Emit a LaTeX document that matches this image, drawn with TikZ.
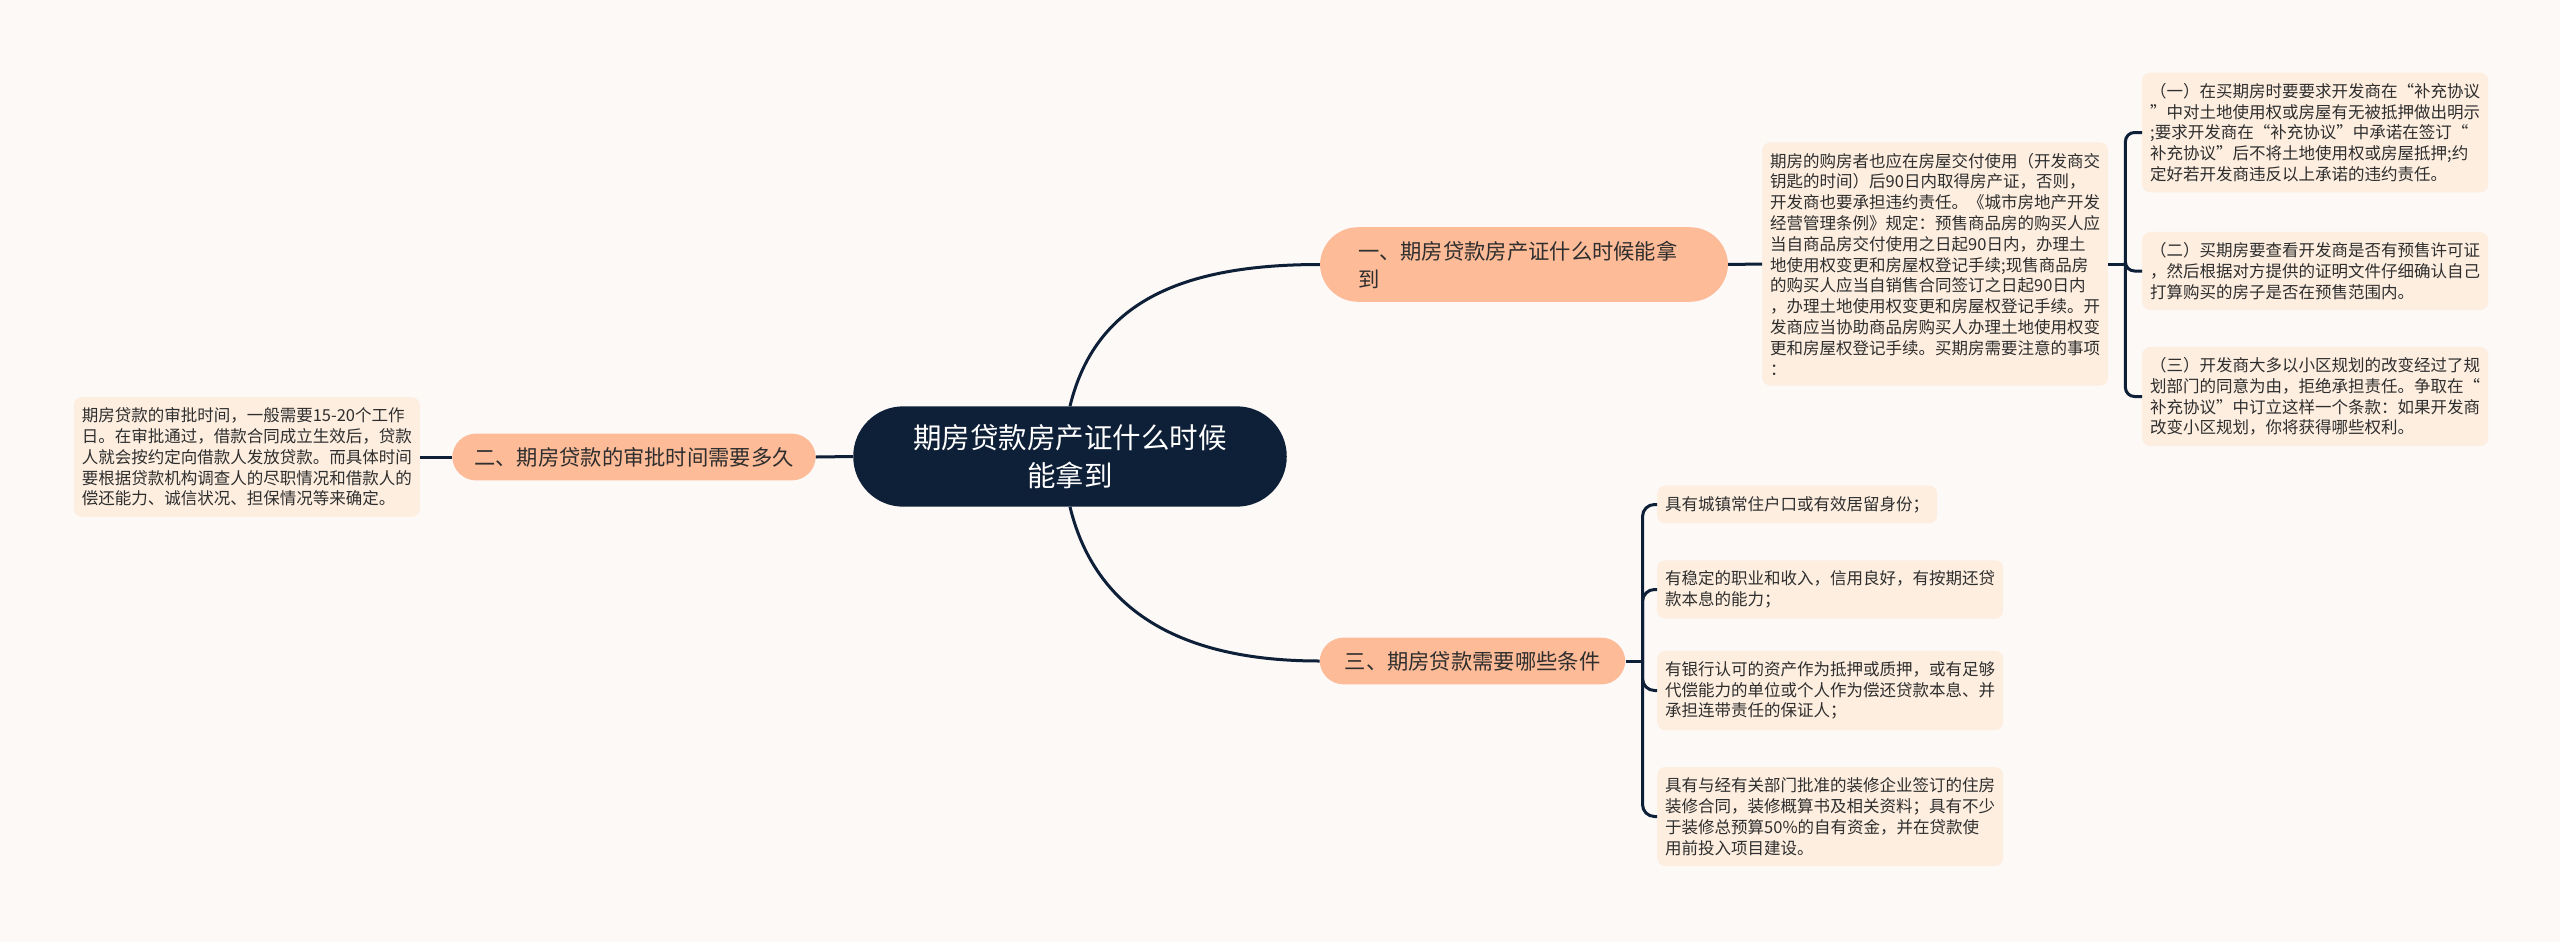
\documentclass[tikz,border=0pt]{standalone}
\usepackage{fontspec}
\setmainfont{Noto Sans CJK SC}
\usetikzlibrary{calc}

\definecolor{fundo}{HTML}{FCF9F7}
\definecolor{corFolha}{HTML}{FDEEE0}
\definecolor{corRamo}{HTML}{FDBB98}
\definecolor{corCentro}{HTML}{0E1F38}
\definecolor{corTexto}{HTML}{2E2E2E}

\tikzset{
  centro/.style={fill=corCentro, text=white, rounded corners=50pt, align=center,
    inner xsep=60pt, inner ysep=18pt, font=\fontsize{28.5}{38}\selectfont},
  ramo/.style={fill=corRamo, text=corTexto, align=left, inner ysep=13.5pt,
    font=\fontsize{21.3}{28}\selectfont},
  folha/.style={fill=corFolha, text=corTexto, rounded corners=8pt, align=left,
    inner xsep=8pt, inner ysep=10.5pt, anchor=west, font=\fontsize{16.5}{20.8}\selectfont},
  liga/.style={draw=corCentro, line width=3pt},
}

\begin{document}
\begin{tikzpicture}[x=1pt,y=1pt]
			\fill[fundo] (0,0) rectangle (2560,-942);
			
			%no central
			\node[centro] (C) at (1070,-456.5) {期房贷款房产证什么时候\\能拿到};
			
			%ramos
			\node[ramo, text width=332pt, inner xsep=38pt, rounded corners=38pt] (R1) at (1524,-264.5) {一、期房贷款房产证什么时候能拿\\到};
			\node[ramo, inner xsep=22pt, rounded corners=24pt] (R2) at (634,-457) {二、期房贷款的审批时间需要多久};
			\node[ramo, inner xsep=25pt, rounded corners=24pt] (R3) at (1472.5,-661) {三、期房贷款需要哪些条件};
			
			%folhas do ramo um
			\node[folha] (F1) at (1762,-264) {期房的购房者也应在房屋交付使用（开发商交\\钥匙的时间）后90日内取得房产证，否则，\\开发商也要承担违约责任。《城市房地产开发\\经营管理条例》规定：预售商品房的购买人应\\当自商品房交付使用之日起90日内，办理土\\地使用权变更和房屋权登记手续;现售商品房\\的购买人应当自销售合同签订之日起90日内\\，办理土地使用权变更和房屋权登记手续。开\\发商应当协助商品房购买人办理土地使用权变\\更和房屋权登记手续。买期房需要注意的事项\\：};
			\node[folha] (A1) at (2142,-132.5) {（一）在买期房时要要求开发商在“补充协议\\”中对土地使用权或房屋有无被抵押做出明示\\;要求开发商在“补充协议”中承诺在签订“\\补充协议”后不将土地使用权或房屋抵押;约\\定好若开发商违反以上承诺的违约责任。};
			\node[folha] (A2) at (2142,-271) {（二）买期房要查看开发商是否有预售许可证\\，然后根据对方提供的证明文件仔细确认自己\\打算购买的房子是否在预售范围内。};
			\node[folha] (A3) at (2142,-396.5) {（三）开发商大多以小区规划的改变经过了规\\划部门的同意为由，拒绝承担责任。争取在“\\补充协议”中订立这样一个条款：如果开发商\\改变小区规划，你将获得哪些权利。};
			
			%folha do ramo dois
			\node[folha, anchor=east] (E1) at (420,-457) {期房贷款的审批时间，一般需要15-20个工作\\日。在审批通过，借款合同成立生效后，贷款\\人就会按约定向借款人发放贷款。而具体时间\\要根据贷款机构调查人的尽职情况和借款人的\\偿还能力、诚信状况、担保情况等来确定。};
			
			%folhas do ramo tres
			\node[folha] (T1) at (1657,-504.5) {具有城镇常住户口或有效居留身份；};
			\node[folha] (T2) at (1657,-589.5) {有稳定的职业和收入，信用良好，有按期还贷\\款本息的能力；};
			\node[folha] (T3) at (1657,-690.5) {有银行认可的资产作为抵押或质押，或有足够\\代偿能力的单位或个人作为偿还贷款本息、并\\承担连带责任的保证人；};
			\node[folha] (T4) at (1657,-816.5) {具有与经有关部门批准的装修企业签订的住房\\装修合同，装修概算书及相关资料；具有不少\\于装修总预算50\%的自有资金，并在贷款使\\用前投入项目建设。};
			
			%ligando o centro aos ramos
			\draw[liga] (C.north) .. controls +(25,103) and +(-140,0) .. (R1.west);
			\draw[liga] (C.west) -- (R2.east);
			\draw[liga] (C.south) .. controls +(25,-103) and +(-140,0) .. (R3.west);
			
			%ligando os ramos as folhas
			\draw[liga] (R1.east) -- (F1.west);
			\draw[liga] (R2.west) -- (E1.east);
			\coordinate (J1) at ($(F1.east)+(17,0)$);
			\draw[liga] (F1.east) -- (J1);
			\foreach \n in {A1,A2,A3}
				\draw[liga, rounded corners=9pt] (J1) |- (\n.west);
			\coordinate (J3) at ($(R3.east)+(17,0)$);
			\draw[liga] (R3.east) -- (J3);
			\foreach \n in {T1,T2,T3,T4}
				\draw[liga, rounded corners=12pt] (J3) |- (\n.west);
		\end{tikzpicture}
\end{document}
